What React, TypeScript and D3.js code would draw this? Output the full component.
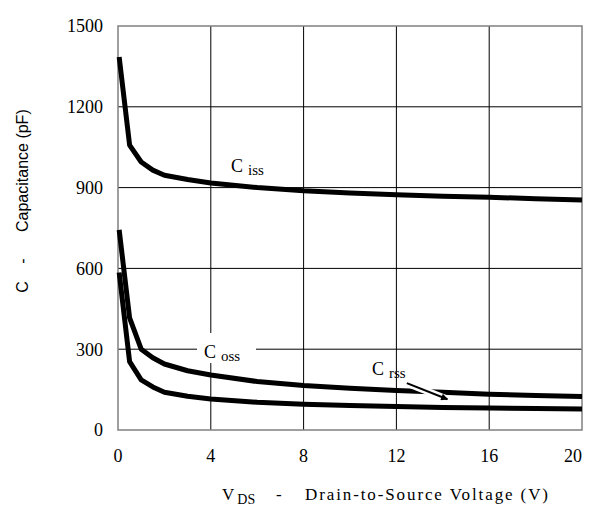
import React from 'react';
import * as d3 from 'd3';

// drain-source voltage (V) and capacitances (pF)
const vds = [0.05, 0.5, 1, 1.5, 2, 3, 4, 6, 8, 10, 12, 14, 16, 18, 20];
const ciss = [1385, 1058, 995, 965, 946, 930, 917, 900, 888, 880, 873, 868, 864, 859, 854];
const coss = [743, 416, 300, 268, 245, 220, 204, 180, 165, 155, 147, 140, 133, 128, 124];
const crss = [585, 254, 186, 160, 140, 125, 115, 103, 96, 91, 87, 84, 82, 80, 78];

const xTicks = [0, 4, 8, 12, 16, 20];
const yTicks = [0, 300, 600, 900, 1200, 1500];

const W = 589;
const H = 517;
const left = 118, right = 582, top = 26, bottom = 430;

const serif = '"Liberation Serif", "DejaVu Serif", serif';
const sans = '"Liberation Sans", Arial, sans-serif';

export default function App() {
  const x = d3.scaleLinear().domain([0, 20]).range([left, right]);
  const y = d3.scaleLinear().domain([0, 1500]).range([bottom, top]);

  const line = d3.line<number>()
    .x((_, i) => x(vds[i]))
    .y((d) => y(d));

  const series = [ciss, coss, crss];

  // Crss pointer arrow (in data units)
  const arrowFrom = [12.45, 174];
  const arrowTo = [14.2, 114];

  return (
    <div style={{ position: 'absolute', left: 0, top: 0 }}>
      <svg width={W} height={H} style={{ display: 'block', background: '#fff' }}>
        <defs>
          <marker id="ah" viewBox="0 0 10 10" refX="9" refY="5" markerWidth="6" markerHeight="3.5" orient="auto" markerUnits="strokeWidth">
            <path d="M0,0 L10,5 L0,10 z" fill="#000" />
          </marker>
        </defs>

        {/* grid */}
        {xTicks.slice(1, -1).map((t) => (
          <line key={'gx' + t} x1={x(t)} x2={x(t)} y1={top} y2={bottom} stroke="#000" strokeWidth={1} />
        ))}
        {yTicks.slice(1, -1).map((t) => (
          <line key={'gy' + t} x1={left} x2={right} y1={y(t)} y2={y(t)} stroke="#000" strokeWidth={1} />
        ))}

        {/* frame */}
        <rect x={left} y={top} width={right - left} height={bottom - top} fill="none" stroke="#808080" strokeWidth={1.5} />

        {/* label box that breaks the grid */}
        <rect x={197} y={333} width={59} height={30} fill="#fff" />

        {/* curves */}
        {series.map((s, i) => (
          <path key={i} d={line(s) || ''} fill="none" stroke="#000" strokeWidth={5} strokeLinejoin="round" />
        ))}

        {/* Crss arrow with halo */}
        <line x1={x(arrowFrom[0])} y1={y(arrowFrom[1])} x2={x(arrowTo[0]) + 4} y2={y(arrowTo[1]) + 1.5} stroke="#fff" strokeWidth={7} />
        <line x1={x(arrowFrom[0])} y1={y(arrowFrom[1])} x2={x(arrowTo[0])} y2={y(arrowTo[1])} stroke="#000" strokeWidth={2} markerEnd="url(#ah)" />

        {/* curve labels */}
        <text x={231} y={172} fontFamily={serif} fontSize={18}>C<tspan dx={5} dy={3} fontSize={15}>iss</tspan></text>
        <text x={204} y={358} fontFamily={serif} fontSize={18}>C<tspan dx={5} dy={3} fontSize={15}>oss</tspan></text>
        <text x={372} y={375} fontFamily={serif} fontSize={18}>C<tspan dx={5} dy={3} fontSize={15}>rss</tspan></text>

        {/* tick labels */}
        {yTicks.map((t) => (
          <text key={'ty' + t} x={103} y={y(t)} dy="0.35em" textAnchor="end" fontFamily={serif} fontSize={18}>{t}</text>
        ))}
        {xTicks.map((t, i) => (
          <text key={'tx' + t} x={i === xTicks.length - 1 ? right : x(t)} y={462}
            textAnchor={i === xTicks.length - 1 ? 'end' : 'middle'} fontFamily={serif} fontSize={18}>{t}</text>
        ))}

        {/* axis titles */}
        <text x={222} y={500} fontFamily={serif} fontSize={17}>V<tspan dx={3} dy={4} fontSize={14}>DS</tspan></text>
        <text x={276} y={500} fontFamily={serif} fontSize={17}>-</text>
        <text x={305} y={500} fontFamily={serif} fontSize={17} textLength={243} lengthAdjust="spacing">Drain-to-Source Voltage (V)</text>

        <g transform="translate(28,0) rotate(-90)">
          <text x={-232} y={0} fontFamily={sans} fontSize={16}>Capacitance (pF)</text>
          <text x={-261} y={0} textAnchor="middle" fontFamily={sans} fontSize={16}>-</text>
          <text x={-287} y={0} textAnchor="middle" fontFamily={sans} fontSize={16}>C</text>
        </g>
      </svg>
    </div>
  );
}
